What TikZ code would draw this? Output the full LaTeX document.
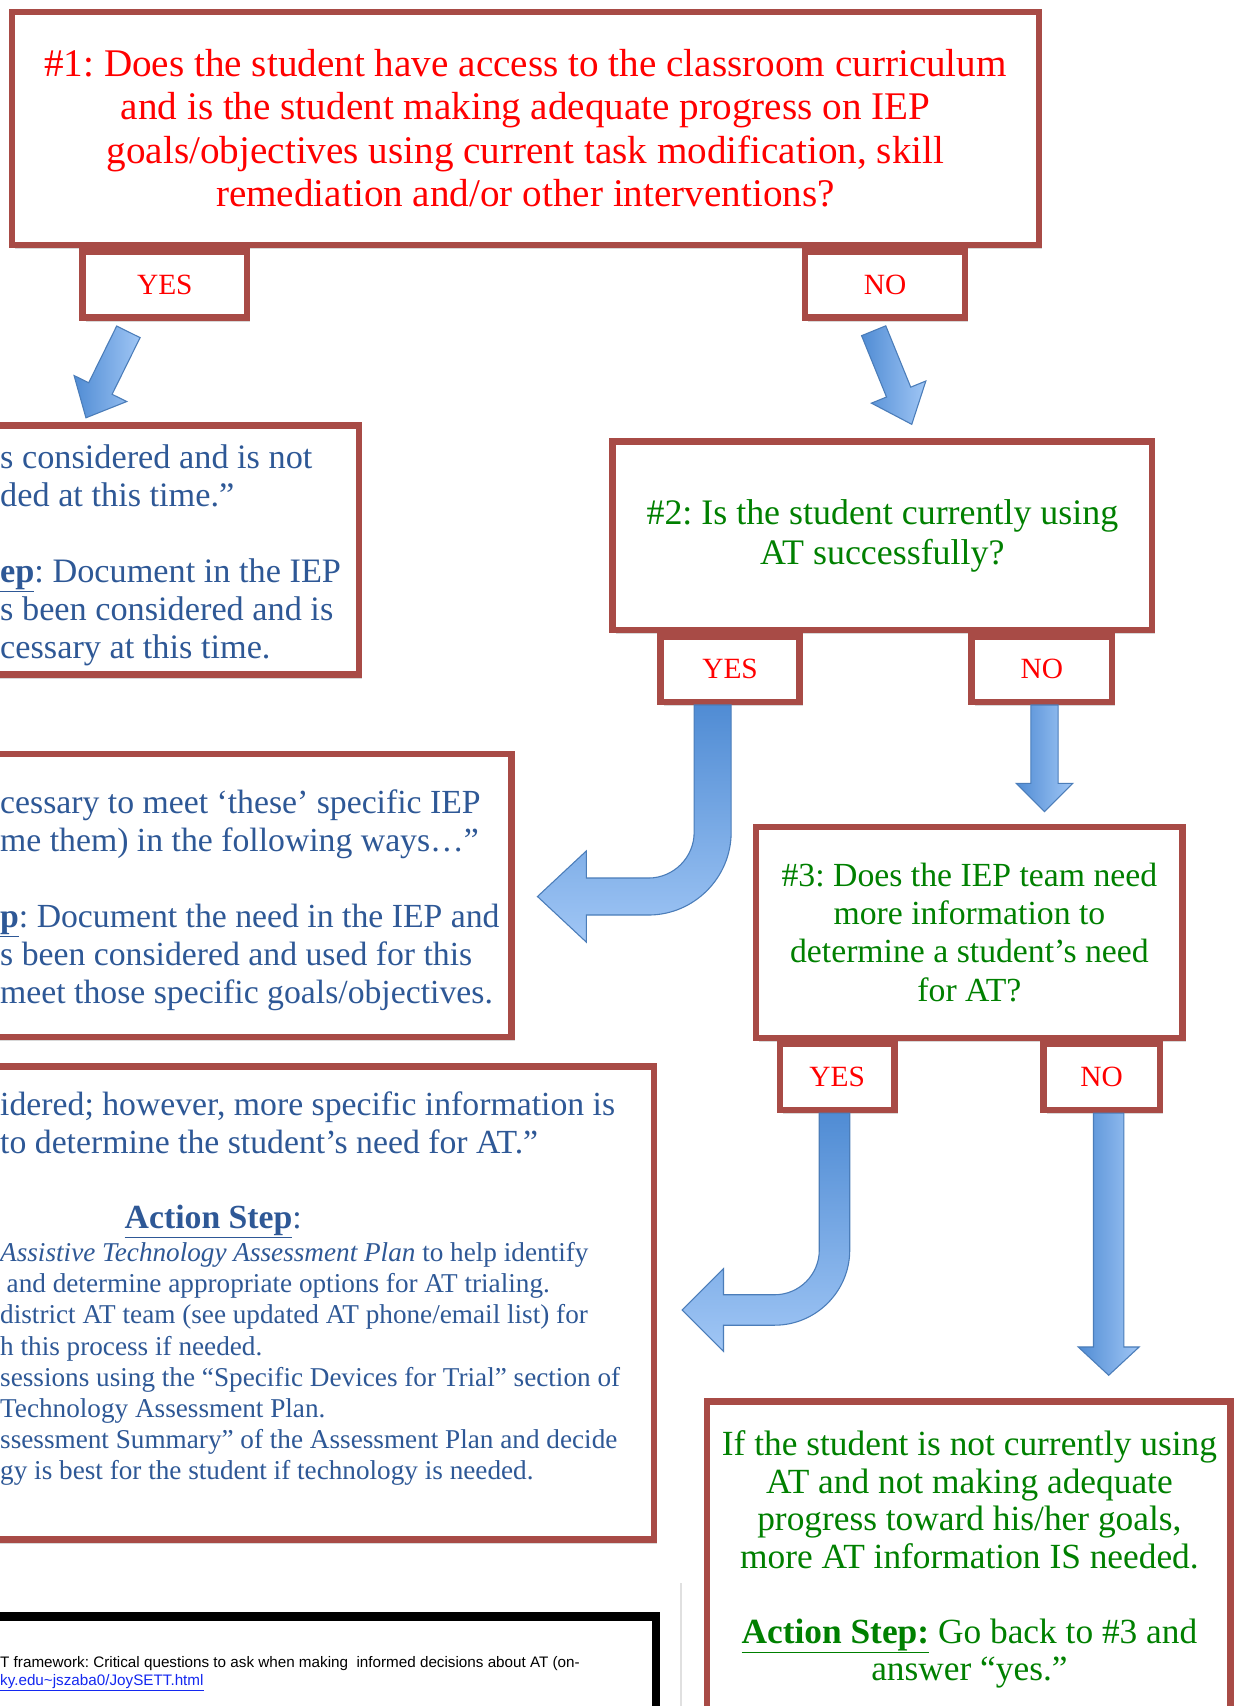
\documentclass[tikz,border=0pt]{standalone}
\usepackage{fontspec}
\setmainfont{Liberation Serif}
\setsansfont{Liberation Sans}
\usepackage{tikz}
\usetikzlibrary{shadows,calc,positioning}
\usepackage{xcolor}
\frenchspacing

\definecolor{boxred}{RGB}{168,75,70}
\definecolor{qgreen}{RGB}{0,128,0}
\definecolor{ablue}{RGB}{46,88,150}
\definecolor{arrowdark}{RGB}{80,140,212}
\definecolor{arrowlight}{RGB}{160,198,245}
\definecolor{arrowedge}{RGB}{75,125,185}
\definecolor{linkblue}{RGB}{20,40,240}

% straight block arrow: tail, tip, half shaft, half head, head length, shading
\newcommand\blockarrow[6]{%
  \coordinate (hb) at ($(#2)!#5!(#1)$);
  \draw[arrowedge,line width=1pt,#6]
    ($(#1)!#3!90:(#2)$) -- ($(hb)!#3!90:(#2)$) -- ($(hb)!#4!90:(#2)$) -- (#2)
    -- ($(hb)!#4!-90:(#2)$) -- ($(hb)!#3!-90:(#2)$) -- ($(#1)!#3!-90:(#2)$) -- cycle;
}
% bent block arrow (down, then left): top, tip, half shaft, radius, half head, head length
\newcommand\bentarrow[6]{%
  \draw[arrowedge,line width=1pt,top color=arrowdark,bottom color=arrowlight]
    let \p1=(#1), \p2=(#2), \n1={\x1-#4}, \n2={\y2+#4} in
    (\x1-#3,\y1) -- (\x1+#3,\y1) -- (\x1+#3,\n2)
    .. controls (\x1+#3,\n2-0.55*#4-0.55*#3) and (\n1+0.55*#4+0.55*#3,\y2-#3) .. (\n1,\y2-#3)
    -- (\x2+#6,\y2-#3) -- (\x2+#6,\y2-#5) -- (\x2,\y2) -- (\x2+#6,\y2+#5)
    -- (\x2+#6,\y2+#3) -- (\n1,\y2+#3)
    .. controls (\n1+0.55*#4-0.55*#3,\y2+#3) and (\x1-#3,\n2-0.55*#4+0.55*#3) .. (\x1-#3,\n2) -- cycle;
}

\begin{document}
\begin{tikzpicture}[x=1pt,y=-1pt,>=stealth]
      \tikzstyle{qbox}=[rectangle,draw=boxred,line width=6pt,fill=white,
        drop shadow={shadow xshift=3pt,shadow yshift=-4pt,opacity=.3}]
      \tikzstyle{ynbox}=[qbox,text=red,font=\fontsize{27}{30}\selectfont]
      \tikzstyle{atext}=[text=ablue,align=left,inner sep=0pt,anchor=north west]
      \tikzstyle{gtext}=[text=qgreen,align=center,inner sep=0pt]
      \useasboundingbox (0,0) rectangle (1139,1568);
      \clip (0,0) rectangle (1139,1568);
      \fill[white] (0,0) rectangle (1139,1568);

      % question 1
      \node[qbox,minimum width=944,minimum height=214,text=red,align=center,
        font=\fontsize{36}{40}\selectfont](q1) at (483,118)
        {\#1: Does the student have access to the classroom curriculum\\
         and is the student making adequate progress on IEP\\
         goals/objectives using current task modification, skill\\
         remediation and/or other interventions?};
      \node[ynbox,minimum width=151,minimum height=61](yes1) at (151.5,261.5){YES};
      \node[ynbox,minimum width=147,minimum height=61](no1) at (813.5,261.5){NO};

      % answer: not needed
      \node[qbox,minimum width=630,minimum height=229](ans1) at (15,505.5){};
      \node[atext,font=\fontsize{31.5}{35}\selectfont](ans1txt) at (0,408.5)
        {s considered and is not\\
         ded at this time.”\\[35pt]
         \underline{\textbf{ep}}: Document in the IEP\\
         s been considered and is\\
         cessary at this time.};

      % question 2
      \node[qbox,minimum width=496,minimum height=173,text=qgreen,align=center,
        font=\fontsize{33}{37}\selectfont](q2) at (811,492.5)
        {\#2: Is the student currently using\\AT successfully?};
      \node[ynbox,minimum width=128,minimum height=60](yes2) at (671,615){YES};
      \node[ynbox,minimum width=129,minimum height=60](no2) at (957.5,615){NO};

      % answer: AT in use
      \node[qbox,minimum width=770,minimum height=260](ans2) at (85,823){};
      \node[atext,font=\fontsize{31}{35}\selectfont](ans2txt) at (0,725.5)
        {cessary to meet ‘these’ specific IEP\\
         me them) in the following ways…”\\[35pt]
         \underline{\textbf{p}}: Document the need in the IEP and\\
         s been considered and used for this\\
         meet those specific goals/objectives.};

      % question 3
      \node[qbox,minimum width=392,minimum height=194,text=qgreen,align=center,
        font=\fontsize{31}{35}\selectfont](q3) at (891,857)
        {\#3: Does the IEP team need\\more information to\\
         determine a student’s need\\for AT?};
      \node[ynbox,minimum width=105,minimum height=61](yes3) at (769.5,989.5){YES};
      \node[ynbox,minimum width=107,minimum height=61](no3) at (1012.5,989.5){NO};

      % answer: more information
      \node[qbox,minimum width=901,minimum height=435](ans3) at (150.5,1197.5){};
      \node[atext,font=\fontsize{31}{35}\selectfont](ans3txt) at (0,1003.5)
        {idered; however, more specific information is\\
         to determine the student’s need for AT.”};
      \node[text=ablue,font=\fontsize{31}{35}\selectfont](act3) at (196,1123)
        {\underline{\textbf{Action Step}}:};
      \node[atext,font=\fontsize{25}{28.7}\selectfont](steps3) at (0,1141.5)
        {\textit{Assistive Technology Assessment Plan} to help identify\\
         \hspace*{6pt}and determine appropriate options for AT trialing.\\
         district AT team (see updated AT phone/email list) for\\
         h this process if needed.\\
         sessions using the “Specific Devices for Trial” section of\\
         Technology Assessment Plan.\\
         ssessment Summary” of the Assessment Plan and decide\\
         gy is best for the student if technology is needed.};

      % answer: go back
      \node[qbox,minimum width=481,minimum height=412](back) at (890.5,1494){};
      \node[gtext,anchor=north,font=\fontsize{32.5}{34.5}\selectfont](backtxt) at (891,1315)
        {If the student is not currently using\\
         AT and not making adequate\\
         progress toward his/her goals,\\
         more AT information IS needed.\\[34pt]
         \underline{\textbf{Action Step:}} Go back to \#3 and\\
         answer “yes.”};

      % reference box
      \draw[black!12,line width=1.5pt] (626,1455) -- (626,1568);
      \node[rectangle,draw=black,line width=8pt,fill=white,minimum width=903,
        minimum height=214](refbox) at (151.5,1593){};
      \node[anchor=north west,inner sep=0pt,align=left,
        font=\sffamily\fontsize{14}{17}\selectfont](reftxt) at (0,1522)
        {T framework: Critical questions to ask when making \ informed decisions about AT (on-\\
         \textcolor{linkblue}{\underline{ky.edu\textasciitilde jszaba0/JoySETT.html}}};

      % arrows
      \coordinate (y1tail) at (118,305);
      \coordinate (y1tip) at (79,384);
      \coordinate (n1tail) at (803,304);
      \coordinate (n1tip) at (838,390);
      \coordinate (n2tail) at (960,648);
      \coordinate (n2tip) at (960,746);
      \coordinate (n3tail) at (1019,1023);
      \coordinate (n3tip) at (1019,1264);
      \coordinate (y2top) at (655,648);
      \coordinate (y2tip) at (494,824);
      \coordinate (y3top) at (767,1023);
      \coordinate (y3tip) at (627,1204);
      \blockarrow{y1tail}{y1tip}{12pt}{27pt}{30pt}{left color=arrowdark,right color=arrowlight}
      \blockarrow{n1tail}{n1tip}{12pt}{27pt}{32pt}{left color=arrowdark,right color=arrowlight}
      \blockarrow{n2tail}{n2tip}{12.5pt}{26pt}{26pt}{left color=arrowdark,right color=arrowlight}
      \blockarrow{n3tail}{n3tip}{14pt}{28pt}{26pt}{left color=arrowdark,right color=arrowlight}
      \bentarrow{y2top}{y2tip}{17pt}{59pt}{42pt}{45pt}
      \bentarrow{y3top}{y3tip}{14pt}{55pt}{38pt}{38pt}
\end{tikzpicture}
\end{document}
